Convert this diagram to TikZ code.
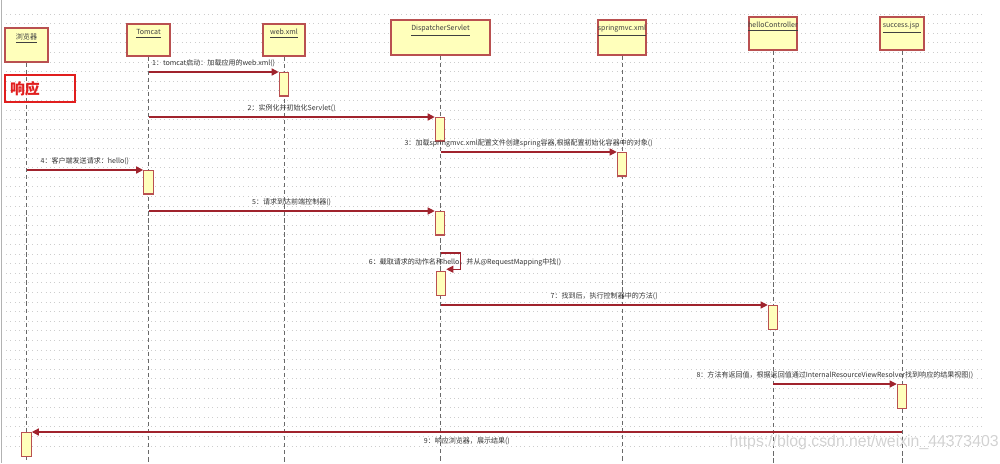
\documentclass[tikz,border=0pt]{standalone}
\usepackage{fontspec}
\usepackage{tikz}
\usetikzlibrary{arrows.meta,positioning,calc}
\newfontfamily\cjk{Noto Sans CJK SC}
\setsansfont{Liberation Sans}

\definecolor{objfill}{RGB}{255,255,187}
\definecolor{objdraw}{RGB}{185,80,80}
\definecolor{msgred}{RGB}{160,35,45}
\definecolor{gridgray}{RGB}{205,205,205}
\definecolor{lifegray}{RGB}{105,105,105}
\definecolor{respred}{RGB}{225,30,30}

\tikzset{
  obj/.style={draw=objdraw, fill=objfill, line width=0.6pt, inner sep=0pt},
  objlabel/.style={font=\cjk\fontsize{4}{5}\selectfont, text=black!75, inner sep=0pt},
  act/.style={draw=objdraw, fill=objfill, line width=0.6pt, minimum width=0.19cm,
    minimum height=0.47cm, inner sep=0pt, anchor=north},
  life/.style={draw=lifegray, dash pattern=on 2.5pt off 1.5pt, line width=0.4pt},
  msg/.style={draw=msgred, line width=0.8pt, -{Triangle[length=4pt,width=4pt]}},
  msglabel/.style={font=\cjk\fontsize{4}{5}\selectfont, text=black!80, inner sep=0.5pt},
}

\begin{document}
\begin{tikzpicture}[x=0.02cm,y=-0.02cm]
  \useasboundingbox (0,0) rectangle (1000,463);

  % Dotted background grid.
  \foreach \y in {14,23.6,...,455}
    \draw[gridgray, dotted, line width=0.5pt] (6,\y) -- (985,\y);
  \draw[gray!60, line width=0.6pt] (1.5,0) -- (1.5,463);

  % Objects at the top of each lifeline.
  \foreach \nm/\x/\y/\w/\h/\txt in {
      browser/26.5/45/43/34/{浏览器},
      tomcat/148.5/40/43/32/{Tomcat},
      webxml/284/40/42/32/{web.xml},
      ds/440.5/37.5/99/35/{DispatcherServlet},
      mvcxml/622/37.5/48/35/{springmvc.xml},
      ctrl/773/33.5/48/33/{helloController},
      success/902/33.5/44/33/{success.jsp}
  }{
    \node[obj, minimum width=\w*0.02cm, minimum height=\h*0.02cm]
      (\nm) at (\x,\y) {};
    \node[objlabel, below=0.11cm of \nm.north] {\underline{\txt}};
  }

  % Lifelines.
  \coordinate (bottom) at (0,463);
  \foreach \nm in {browser,tomcat,webxml,ds,mvcxml,ctrl,success}
    \draw[life] (\nm.south) -- (\nm.south |- bottom);

  % Activation bars.
  \node[act] (a1) at (284,72) {};
  \node[act] (a2) at (440,117) {};
  \node[act] (a3) at (622,152) {};
  \node[act] (a4) at (148.5,170) {};
  \node[act] (a5) at (440,211) {};
  \node[act] (a6) at (441,271) {};
  \node[act] (a7) at (773,305) {};
  \node[act] (a8) at (902,384) {};
  \node[act] (a9) at (26.5,432) {};

  % Messages.
  \draw[msg] (tomcat.south |- a1.north west) --
    node[msglabel, above=2pt] {1：tomcat启动：加载应用的web.xml()} (a1.north west);
  \draw[msg] (tomcat.south |- a2.north west) --
    node[msglabel, above=2pt] {2：实例化并初始化Servlet()} (a2.north west);
  \draw[msg, line width=0.6pt] (ds.south |- a3.north west) --
    node[msglabel, above=2pt] {3：加载springmvc.xml配置文件创建spring容器,根据配置初始化容器中的对象()}
    (a3.north west);
  \draw[msg] (browser.south |- a4.north west) --
    node[msglabel, above=2pt] {4：客户端发送请求：hello()} (a4.north west);
  \draw[msg, line width=0.6pt] (tomcat.south |- a5.north west) --
    node[msglabel, above=2pt] {5：请求到达前端控制器()} (a5.north west);

  % Self call on the DispatcherServlet.
  \coordinate (s6) at (440.5,253);
  \draw[msg, line width=0.6pt] (s6) -- ++(20,0) |- ([yshift=1pt]a6.north east);
  \node[msglabel] (l6) at (465,262)
    {6：截取请求的动作名称hello，并从@RequestMapping中找()};

  \draw[msg, line width=0.6pt] (ds.south |- a7.north west) --
    node[msglabel, above=2pt] {7：找到后，执行控制器中的方法()} (a7.north west);
  \draw[msg, line width=0.6pt] (ctrl.south |- a8.north west) --
    node[msglabel, above=2pt]
    {8：方法有返回值，根据返回值通过InternalResourceViewResolver找到响应的结果视图()}
    (a8.north west);
  \draw[msg] (success.south |- a9.north east) --
    node[msglabel, below=2pt] {9：响应浏览器，展示结果()} (a9.north east);

  % Red note in the top left corner.
  \node[draw=respred, line width=1.2pt, text=respred, text width=1.2cm, align=left,
    inner xsep=0.1cm, minimum height=0.46cm,
    font=\cjk\bfseries\fontsize{8.5}{9}\selectfont] (resp) at (40,88.5) {响应};

  % Watermark.
  \node[anchor=east, font=\sffamily\fontsize{9}{10}\selectfont, text=gray!35,
    inner sep=0pt] (mark) at (999,442) {https://blog.csdn.net/weixin\_44373403};
\end{tikzpicture}
\end{document}
